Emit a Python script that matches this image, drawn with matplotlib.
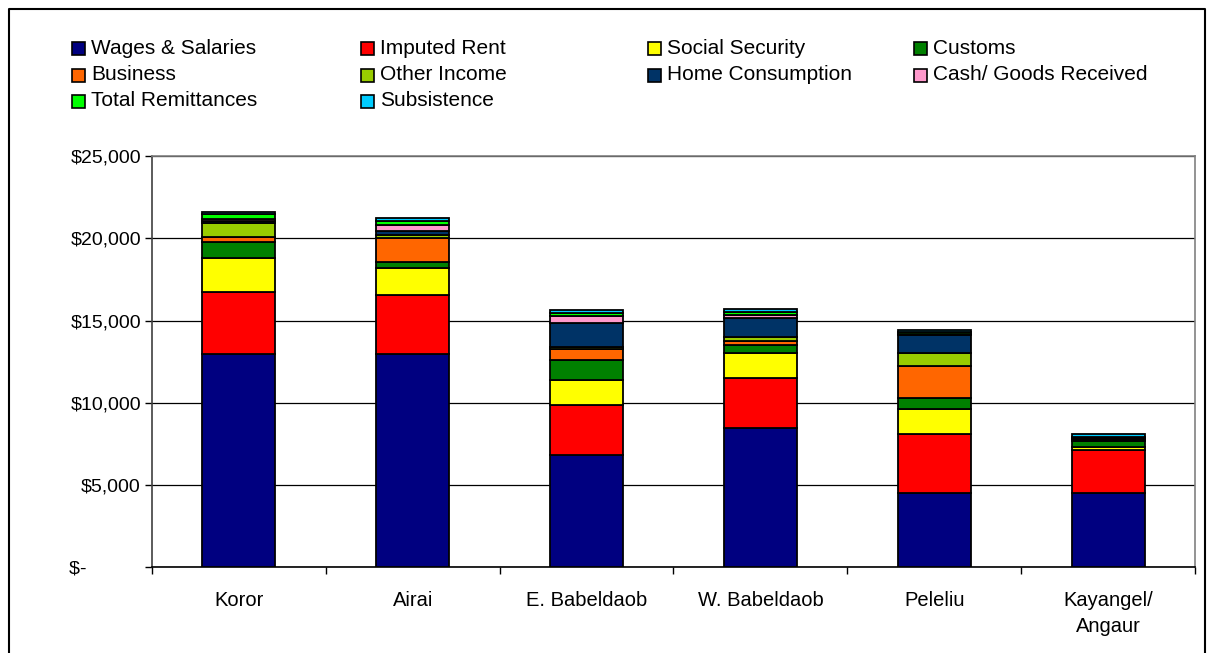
import matplotlib.pyplot as plt
from matplotlib.patches import Rectangle
from matplotlib.lines import Line2D
import numpy as np

plt.rcParams['font.family'] = ['Liberation Sans', 'DejaVu Sans']

regions = ['Koror', 'Airai', 'E. Babeldaob', 'W. Babeldaob', 'Peleliu', 'Kayangel/\nAngaur']

# household income per capita by source (US$), bottom to top
wages = [12950, 12950, 6850, 8450, 4500, 4500]
imputed_rent = [3775, 3590, 3040, 3050, 3600, 2650]
social_security = [2080, 1660, 1520, 1550, 1550, 180]
customs = [940, 365, 1185, 455, 670, 365]
business = [340, 1440, 670, 245, 1910, 60]
other_income = [815, 215, 150, 240, 820, 40]
home_consumption = [150, 245, 1430, 1155, 1060, 40]
cash_goods = [150, 335, 455, 210, 100, 30]
remittances = [250, 245, 185, 170, 85, 30]
subsistence = [120, 210, 180, 165, 150, 200]

series = ['Wages & Salaries', 'Imputed Rent', 'Social Security', 'Customs',
          'Business', 'Other Income', 'Home Consumption', 'Cash/ Goods Received',
          'Total Remittances', 'Subsistence']
values = [wages, imputed_rent, social_security, customs, business,
          other_income, home_consumption, cash_goods, remittances, subsistence]
colors = ['#000080', '#FF0000', '#FFFF00', '#008000', '#FF6600',
          '#99CC00', '#003366', '#FF99CC', '#00FF00', '#00CCFF']

W, H = 1214, 653
fig = plt.figure(figsize=(W / 100, H / 100), dpi=100)
ax = fig.add_axes([152 / W, 1 - 567.3 / H, (1195 - 152) / W, (567.3 - 156) / H])

x = np.arange(len(regions))
bottom = np.zeros(len(regions))
for name, vals, c in zip(series, values, colors):
    ax.bar(x, vals, 0.42, bottom=bottom, color=c, edgecolor='black',
           linewidth=1.3, zorder=3)
    bottom += np.array(vals)

ax.set_xlim(-0.5, len(regions) - 0.5)
ax.set_ylim(0, 25000)
yt = [0, 5000, 10000, 15000, 20000, 25000]
ax.set_yticks(yt)
ax.set_yticklabels(['$-\u2007\u2007\u2007\u2007\u2007'] +
                   ['${:,.0f}'.format(v) for v in yt[1:]])
ax.yaxis.grid(True, color='black', linewidth=0.9, zorder=0)
ax.set_xticks(x)
ax.set_xticklabels(regions, linespacing=1.45)
ax.set_xticks(np.arange(len(regions) + 1) - 0.5, minor=True)
ax.tick_params(axis='x', which='major', length=0, pad=17, labelsize=14.5)
ax.tick_params(axis='x', which='minor', length=5, width=1, direction='out')
ax.tick_params(axis='y', length=5, width=1, direction='out', pad=3, labelsize=14)

for side in ['top', 'right']:
    ax.spines[side].set_color('#808080')
    ax.spines[side].set_linewidth(1.2)
ax.spines['left'].set_color('#404040')
ax.spines['left'].set_linewidth(1.2)
ax.spines['bottom'].set_color('black')
ax.spines['bottom'].set_linewidth(1.2)

# legend, four columns like the spreadsheet
col_x = [72, 361, 648, 914]
row_y = [48, 75, 101]
for i, (name, c) in enumerate(zip(series, colors)):
    cx = col_x[i % 4]
    cy = row_y[i // 4]
    fig.add_artist(Rectangle((cx / W, 1 - (cy + 7) / H), 13 / W, 13 / H,
                             facecolor=c, edgecolor='black', linewidth=1.2,
                             transform=fig.transFigure))
    fig.text((cx + 19) / W, 1 - cy / H, name, fontsize=15, va='center', ha='left')

# outer frame of the chart object
fx0, fx1, fy0 = 9 / W, 1205 / W, 1 - 9 / H
fig.add_artist(Line2D([fx0, fx0, fx1, fx1], [0, fy0, fy0, 0], color='black',
                      linewidth=1.5, transform=fig.transFigure))

fig.savefig('out.png', dpi=100)
